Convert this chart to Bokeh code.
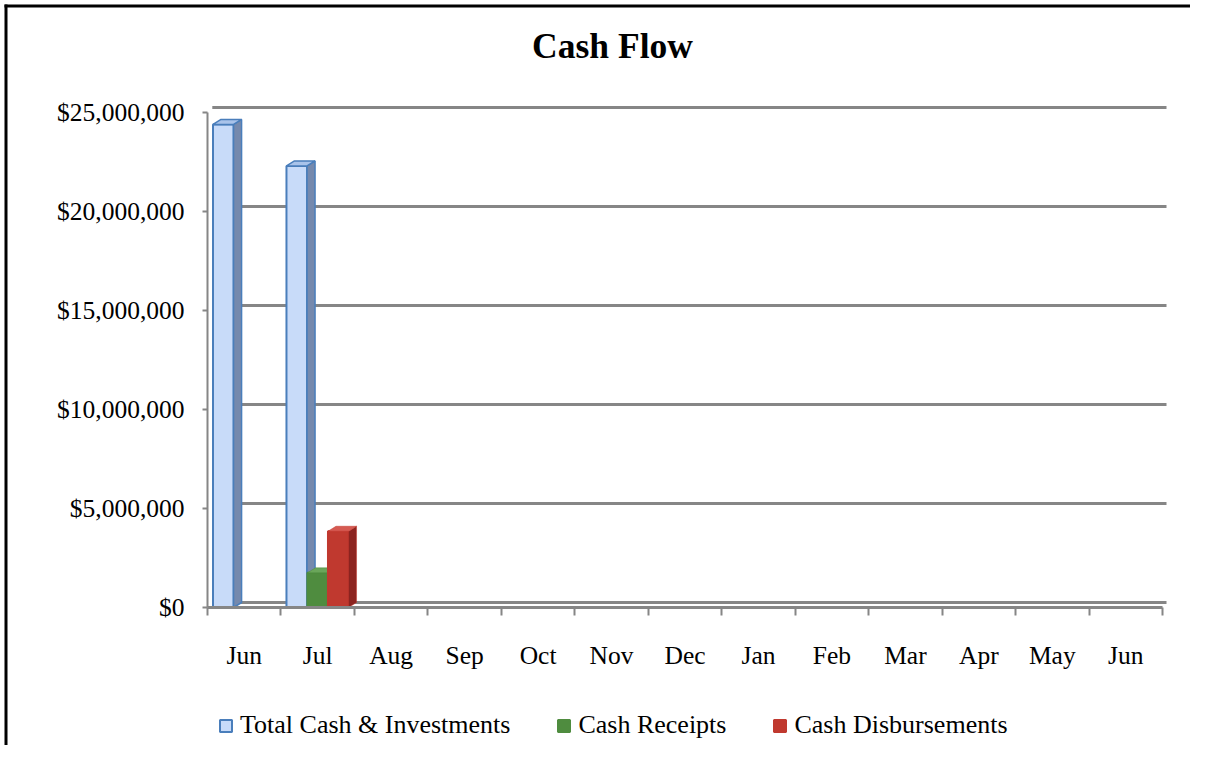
from bokeh.plotting import figure
from bokeh.models import (Range1d, FixedTicker, NumeralTickFormatter, ColumnDataSource,
                          Legend, LegendItem, Label, BoxAnnotation)
from bokeh.embed import file_html
from bokeh.resources import INLINE

# ---------------- data ----------------
months = ["Jun", "Jul", "Aug", "Sep", "Oct", "Nov", "Dec", "Jan", "Feb", "Mar", "Apr", "May", "Jun"]
total_cash = [24_400_000, 22_300_000, 0, 0, 0, 0, 0, 0, 0, 0, 0, 0, 0]
cash_receipts = [0, 1_750_000, 0, 0, 0, 0, 0, 0, 0, 0, 0, 0, 0]
cash_disbursements = [0, 3_850_000, 0, 0, 0, 0, 0, 0, 0, 0, 0, 0, 0]
series_names = ["Total Cash & Investments", "Cash Receipts", "Cash Disbursements"]
y_ticks = [0, 5_000_000, 10_000_000, 15_000_000, 20_000_000, 25_000_000]
chart_title = "Cash Flow"

# ---------------- layout (pixels) ----------------
FONT = "Liberation Serif"
FS = "25.5px"
W, H = 1190, 745
PLOT_L, PLOT_R = 207, 1162      # x pixel of first / last category boundary
PLOT_Y0, PLOT_YTOP = 607, 112   # y pixel of value 0 / of last y tick
GRAY = "#868686"

n = len(months)
ppx = (PLOT_R - PLOT_L) / n                         # px per category
ppy = (PLOT_Y0 - PLOT_YTOP) / y_ticks[-1]           # px per value unit
x_start = -PLOT_L / ppx
x_end = n + (W - PLOT_R) / ppx
y_start = -(H - PLOT_Y0) / ppy
y_end = PLOT_Y0 / ppy

p = figure(width=W, height=H, x_range=Range1d(x_start, x_end), y_range=Range1d(y_start, y_end),
           output_backend="svg", toolbar_location=None,
           min_border_left=0, min_border_right=0, min_border_top=0, min_border_bottom=0)
p.outline_line_color = None
p.background_fill_color = "white"
p.border_fill_color = "white"
p.xgrid.visible = False
p.ygrid.visible = False

# chart-area border (left and top edges)
p.add_layout(BoxAnnotation(left=4, right=7, top=4, bottom=H, left_units="canvas",
                           right_units="canvas", top_units="canvas", bottom_units="canvas",
                           fill_color="black", fill_alpha=1, line_color=None, level="overlay"))
p.add_layout(BoxAnnotation(left=4, right=W, top=4, bottom=7, left_units="canvas",
                           right_units="canvas", top_units="canvas", bottom_units="canvas",
                           fill_color="black", fill_alpha=1, line_color=None, level="overlay"))

# title
p.add_layout(Label(x=612, y=H - 45, x_units="screen", y_units="screen", text=chart_title,
                   text_font=FONT, text_font_size="35.5px", text_font_style="bold",
                   text_color="black", text_align="center", text_baseline="alphabetic"))

# 3D depth offsets in data units
dx = 8 / ppx
dy = 5 / ppy

# back-wall gridlines
p.segment(x0=[dx * 0.6] * len(y_ticks), x1=[n + dx * 0.5] * len(y_ticks),
          y0=[t + dy for t in y_ticks], y1=[t + dy for t in y_ticks],
          line_color=GRAY, line_width=3)

# y axis
p.yaxis.fixed_location = 0
p.yaxis.bounds = (y_ticks[0], y_ticks[-1])
p.yaxis.ticker = FixedTicker(ticks=y_ticks)
p.yaxis.formatter = NumeralTickFormatter(format="$0,0")
p.yaxis.major_label_text_font = FONT
p.yaxis.major_label_text_font_size = FS
p.yaxis.major_label_text_color = "black"
p.yaxis.axis_line_color = GRAY
p.yaxis.axis_line_width = 2
p.yaxis.major_tick_line_color = GRAY
p.yaxis.major_tick_line_width = 2
p.yaxis.major_tick_out = 5
p.yaxis.major_tick_in = 0
p.yaxis.minor_tick_line_color = None
p.yaxis.major_label_standoff = 18

# x axis: labels at month centers, tick marks at boundaries
centers = [i + 0.5 for i in range(n)]
bounds = [float(i) for i in range(n + 1)]
p.xaxis.fixed_location = 0
p.xaxis.bounds = (0, n)
p.xaxis.ticker = FixedTicker(ticks=centers, minor_ticks=bounds)
p.xaxis.major_label_overrides = {c: m for c, m in zip(centers, months)}
p.xaxis.major_label_text_font = FONT
p.xaxis.major_label_text_font_size = FS
p.xaxis.major_label_text_color = "black"
p.xaxis.axis_line_color = GRAY
p.xaxis.axis_line_width = 3
p.xaxis.major_tick_line_color = None
p.xaxis.major_tick_out = 0
p.xaxis.major_tick_in = 0
p.xaxis.minor_tick_line_color = GRAY
p.xaxis.minor_tick_line_width = 2
p.xaxis.minor_tick_out = 8
p.xaxis.minor_tick_in = 0
p.xaxis.major_label_standoff = 25

# ---------------- bars with 3D faces ----------------
bar_w = 0.28
offsets = [-0.285, 0.0, 0.28]
front_colors = ["#c8dbf9", "#4f8c3f", "#c0392f"]
line_colors = ["#4a7ebb", "#4f8c3f", "#c0392f"]
side_colors = ["#7589ad", "#396a2c", "#8c2420"]
top_colors = ["#a9c3ea", "#6aa65a", "#d65a52"]

series = [total_cash, cash_receipts, cash_disbursements]
legend_items = []
for k, vals in enumerate(series):
    xs, tops = [], []
    for i, v in enumerate(vals):
        if v > 0:
            xs.append(i + 0.5 + offsets[k])
            tops.append(v)
    src = ColumnDataSource(dict(x=xs, top=tops))
    r = p.vbar(x="x", top="top", width=bar_w, bottom=0, source=src,
               fill_color=front_colors[k], line_color=line_colors[k], line_width=2)
    legend_items.append(LegendItem(label=series_names[k], renderers=[r]))
    side_x, side_y, top_x, top_y = [], [], [], []
    for x, v in zip(xs, tops):
        xl, xr = x - bar_w / 2, x + bar_w / 2
        side_x.append([xr, xr + dx, xr + dx, xr])
        side_y.append([0, dy, v + dy, v])
        top_x.append([xl, xl + dx, xr + dx, xr])
        top_y.append([v, v + dy, v + dy, v])
    p.patches(side_x, side_y, fill_color=side_colors[k], line_color=line_colors[k],
              line_width=1.5 if k == 0 else 0.5)
    p.patches(top_x, top_y, fill_color=top_colors[k], line_color=line_colors[k],
              line_width=1.5 if k == 0 else 0.5)

legend = Legend(items=legend_items, orientation="horizontal", location=(218, 5),
                label_text_font=FONT, label_text_font_size="26px", label_text_color="black",
                glyph_width=15, glyph_height=15, label_standoff=7, spacing=46,
                padding=0, margin=0, border_line_color=None, background_fill_alpha=0)
p.add_layout(legend, "center")

open("out.html", "w").write(file_html(p, INLINE))
